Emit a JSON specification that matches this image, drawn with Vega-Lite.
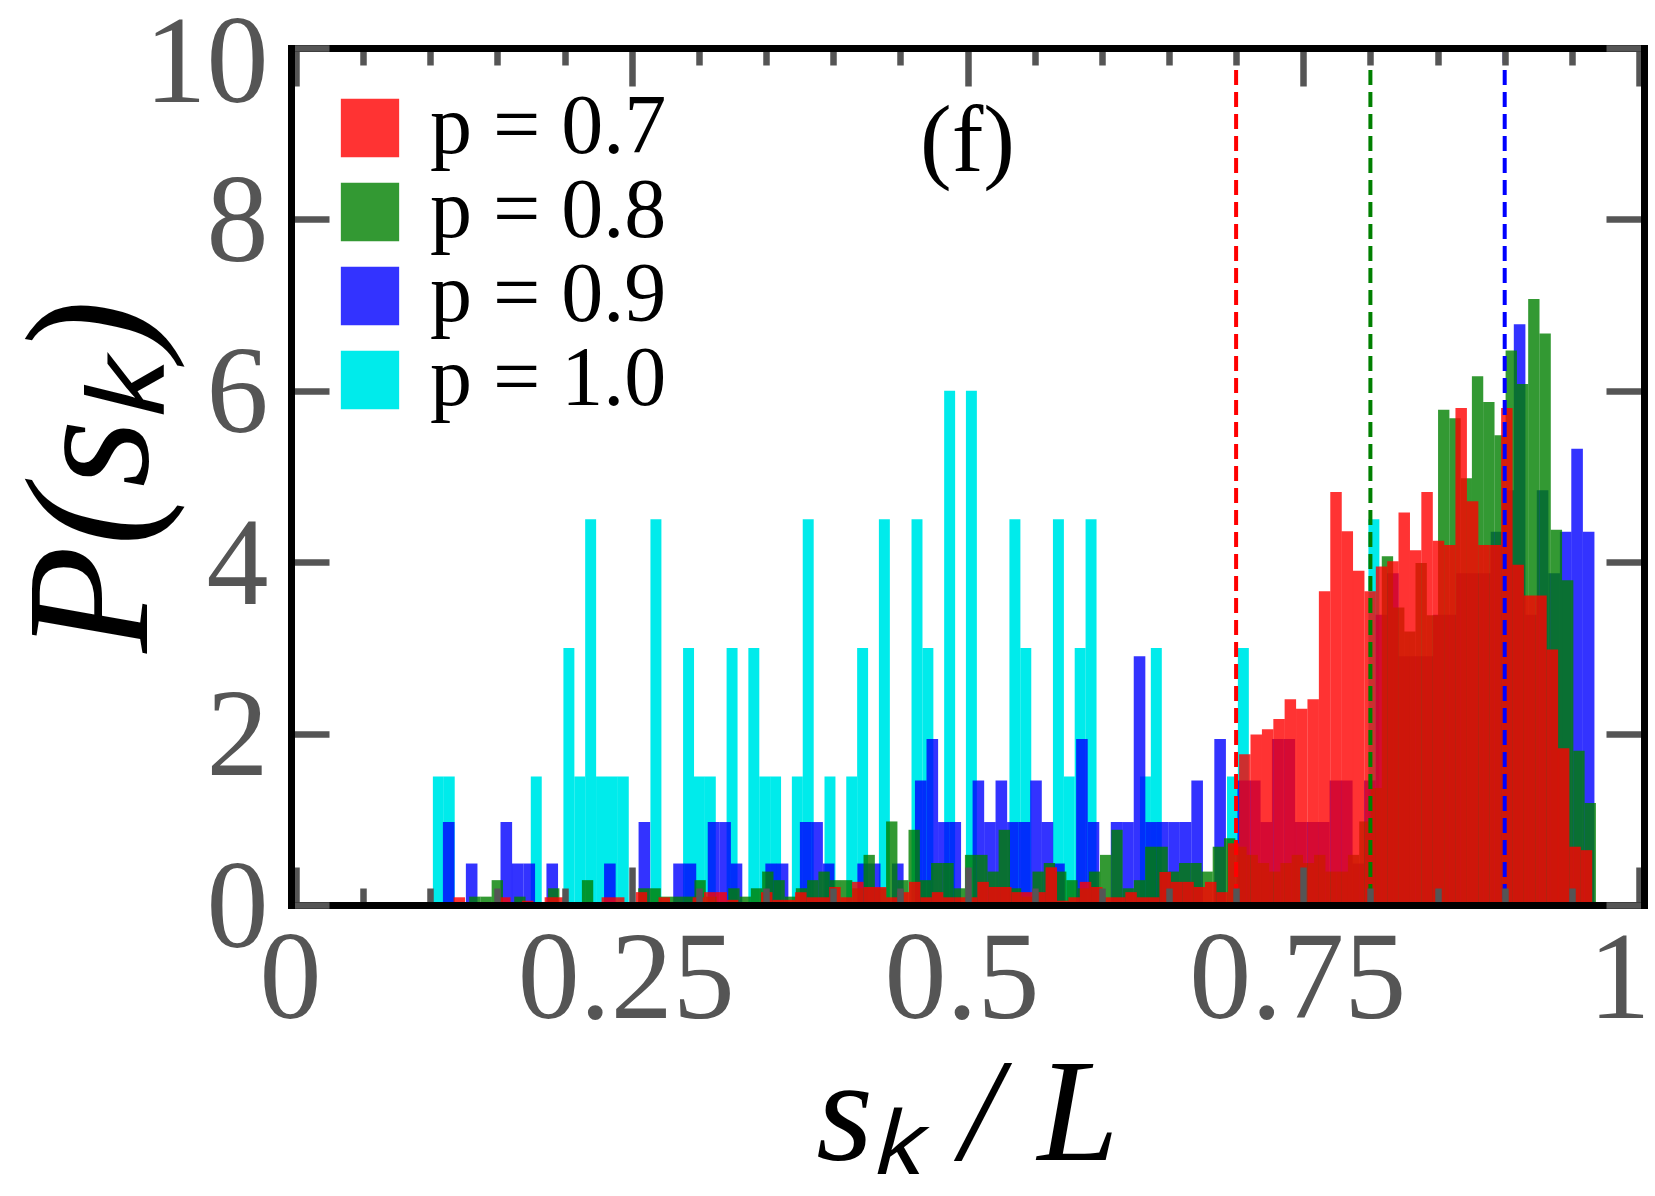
{
  "$schema": "https://vega.github.io/schema/vega-lite/v6.json",
  "width": 1353,
  "height": 857,
  "autosize": {"type": "none"},
  "padding": {"left": 291, "top": 48, "right": 11, "bottom": 291},
  "background": "white",
  "config": {
    "font": "Liberation Serif",
    "view": {"stroke": null},
    "axis": {"grid": false, "labelFont": "Liberation Serif", "titleFont": "Liberation Serif"},
    "legend": {"labelFont": "Liberation Serif"}
  },
  "datasets": {
    "cyan": [
      {"x": 0.1060, "y": 1.5}, {"x": 0.1141, "y": 1.5}, {"x": 0.1789, "y": 1.5}, {"x": 0.2032, "y": 3},
      {"x": 0.2113, "y": 1.5}, {"x": 0.2194, "y": 4.5}, {"x": 0.2275, "y": 1.5}, {"x": 0.2356, "y": 1.5},
      {"x": 0.2437, "y": 1.5}, {"x": 0.2680, "y": 4.5}, {"x": 0.2923, "y": 3}, {"x": 0.3004, "y": 1.5},
      {"x": 0.3085, "y": 1.5}, {"x": 0.3247, "y": 3}, {"x": 0.3409, "y": 3}, {"x": 0.3490, "y": 1.5},
      {"x": 0.3571, "y": 1.5}, {"x": 0.3733, "y": 1.5}, {"x": 0.3814, "y": 4.5}, {"x": 0.3976, "y": 1.5},
      {"x": 0.4138, "y": 1.5}, {"x": 0.4219, "y": 3}, {"x": 0.4381, "y": 4.5}, {"x": 0.4624, "y": 4.5},
      {"x": 0.4705, "y": 3}, {"x": 0.4867, "y": 6}, {"x": 0.5029, "y": 6}, {"x": 0.5353, "y": 4.5},
      {"x": 0.5434, "y": 3}, {"x": 0.5677, "y": 4.5}, {"x": 0.5758, "y": 1.5}, {"x": 0.5839, "y": 3},
      {"x": 0.5920, "y": 4.5}, {"x": 0.6325, "y": 1.5}, {"x": 0.6406, "y": 3}, {"x": 0.6973, "y": 1.5},
      {"x": 0.7054, "y": 3}, {"x": 0.8026, "y": 4.5}
    ],
    "blue": [
      {"x": 0.1137, "y": 0.968}, {"x": 0.1308, "y": 0.484}, {"x": 0.1566, "y": 0.968}, {"x": 0.1651, "y": 0.484},
      {"x": 0.1737, "y": 0.484}, {"x": 0.1908, "y": 0.484}, {"x": 0.2337, "y": 0.484}, {"x": 0.2594, "y": 0.968},
      {"x": 0.2852, "y": 0.484}, {"x": 0.2937, "y": 0.484}, {"x": 0.3109, "y": 0.968}, {"x": 0.3195, "y": 0.968},
      {"x": 0.3280, "y": 0.484}, {"x": 0.3538, "y": 0.484}, {"x": 0.3623, "y": 0.484}, {"x": 0.3795, "y": 0.968},
      {"x": 0.3880, "y": 0.968}, {"x": 0.3966, "y": 0.484}, {"x": 0.4223, "y": 0.484}, {"x": 0.4309, "y": 0.484},
      {"x": 0.4481, "y": 0.484}, {"x": 0.4652, "y": 1.452}, {"x": 0.4738, "y": 1.936}, {"x": 0.4824, "y": 0.968},
      {"x": 0.4909, "y": 0.968}, {"x": 0.5081, "y": 1.452}, {"x": 0.5167, "y": 0.968}, {"x": 0.5252, "y": 1.452},
      {"x": 0.5338, "y": 0.968}, {"x": 0.5424, "y": 0.968}, {"x": 0.5510, "y": 1.452}, {"x": 0.5595, "y": 0.968},
      {"x": 0.5681, "y": 0.484}, {"x": 0.5852, "y": 1.936}, {"x": 0.5938, "y": 0.968}, {"x": 0.6110, "y": 0.968},
      {"x": 0.6195, "y": 0.968}, {"x": 0.6281, "y": 2.904}, {"x": 0.6367, "y": 0.968}, {"x": 0.6452, "y": 0.968},
      {"x": 0.6538, "y": 0.968}, {"x": 0.6624, "y": 0.968}, {"x": 0.6710, "y": 1.452}, {"x": 0.6881, "y": 1.936},
      {"x": 0.7053, "y": 1.452}, {"x": 0.7139, "y": 1.452}, {"x": 0.7224, "y": 0.968}, {"x": 0.7310, "y": 1.936},
      {"x": 0.7396, "y": 1.936}, {"x": 0.7481, "y": 0.968}, {"x": 0.7567, "y": 0.968}, {"x": 0.7653, "y": 0.968},
      {"x": 0.7739, "y": 1.452}, {"x": 0.7824, "y": 1.452}, {"x": 0.7910, "y": 0.484}, {"x": 0.7996, "y": 1.452},
      {"x": 0.8082, "y": 3.388}, {"x": 0.8167, "y": 3.872}, {"x": 0.8253, "y": 2.904}, {"x": 0.8339, "y": 2.904},
      {"x": 0.8425, "y": 2.904}, {"x": 0.8510, "y": 3.388}, {"x": 0.8596, "y": 3.388}, {"x": 0.8682, "y": 3.872},
      {"x": 0.8768, "y": 3.872}, {"x": 0.8853, "y": 3.872}, {"x": 0.8939, "y": 4.356}, {"x": 0.9025, "y": 4.84},
      {"x": 0.9111, "y": 6.776}, {"x": 0.9196, "y": 3.388}, {"x": 0.9282, "y": 4.84}, {"x": 0.9368, "y": 3.872},
      {"x": 0.9454, "y": 4.356}, {"x": 0.9539, "y": 5.324}, {"x": 0.9625, "y": 4.356}
    ],
    "green": [
      {"x": 0.1332, "y": 0.0975}, {"x": 0.1416, "y": 0.0975}, {"x": 0.1499, "y": 0.29}, {"x": 0.1667, "y": 0.0975},
      {"x": 0.1919, "y": 0.195}, {"x": 0.2171, "y": 0.29}, {"x": 0.2590, "y": 0.195}, {"x": 0.2674, "y": 0.195},
      {"x": 0.2758, "y": 0.0975}, {"x": 0.2842, "y": 0.0975}, {"x": 0.2926, "y": 0.0975}, {"x": 0.3009, "y": 0.29},
      {"x": 0.3093, "y": 0.0975}, {"x": 0.3261, "y": 0.195}, {"x": 0.3345, "y": 0.0975}, {"x": 0.3429, "y": 0.195},
      {"x": 0.3513, "y": 0.39}, {"x": 0.3597, "y": 0.29}, {"x": 0.3681, "y": 0.0975}, {"x": 0.3764, "y": 0.195},
      {"x": 0.3848, "y": 0.29}, {"x": 0.3932, "y": 0.39}, {"x": 0.4016, "y": 0.29}, {"x": 0.4100, "y": 0.29},
      {"x": 0.4184, "y": 0.195}, {"x": 0.4268, "y": 0.585}, {"x": 0.4352, "y": 0.195}, {"x": 0.4436, "y": 0.975},
      {"x": 0.4519, "y": 0.29}, {"x": 0.4603, "y": 0.8775}, {"x": 0.4687, "y": 0.29}, {"x": 0.4771, "y": 0.49},
      {"x": 0.4855, "y": 0.49}, {"x": 0.4939, "y": 0.195}, {"x": 0.5023, "y": 0.585}, {"x": 0.5107, "y": 0.585},
      {"x": 0.5191, "y": 0.39}, {"x": 0.5274, "y": 0.8775}, {"x": 0.5358, "y": 0.195}, {"x": 0.5442, "y": 0.0975},
      {"x": 0.5526, "y": 0.39}, {"x": 0.5610, "y": 0.49}, {"x": 0.5694, "y": 0.39}, {"x": 0.5778, "y": 0.29},
      {"x": 0.5862, "y": 0.195}, {"x": 0.5946, "y": 0.39}, {"x": 0.6029, "y": 0.585}, {"x": 0.6113, "y": 0.8775},
      {"x": 0.6197, "y": 0.195}, {"x": 0.6281, "y": 0.29}, {"x": 0.6365, "y": 0.68}, {"x": 0.6449, "y": 0.68},
      {"x": 0.6533, "y": 0.39}, {"x": 0.6617, "y": 0.49}, {"x": 0.6701, "y": 0.49}, {"x": 0.6784, "y": 0.39},
      {"x": 0.6868, "y": 0.68}, {"x": 0.6952, "y": 0.78}, {"x": 0.7036, "y": 0.68}, {"x": 0.7120, "y": 0.585},
      {"x": 0.7204, "y": 0.49}, {"x": 0.7288, "y": 0.39}, {"x": 0.7372, "y": 0.49}, {"x": 0.7456, "y": 0.585},
      {"x": 0.7539, "y": 0.49}, {"x": 0.7623, "y": 0.585}, {"x": 0.7707, "y": 0.39}, {"x": 0.7791, "y": 0.39},
      {"x": 0.7875, "y": 0.585}, {"x": 0.7959, "y": 0.975}, {"x": 0.8043, "y": 1.365}, {"x": 0.8127, "y": 4.07},
      {"x": 0.8211, "y": 3.47}, {"x": 0.8294, "y": 3.19}, {"x": 0.8378, "y": 3.99}, {"x": 0.8462, "y": 3.38},
      {"x": 0.8546, "y": 5.78}, {"x": 0.8630, "y": 5.68}, {"x": 0.8714, "y": 4.98}, {"x": 0.8798, "y": 6.17},
      {"x": 0.8882, "y": 5.87}, {"x": 0.8966, "y": 5.48}, {"x": 0.9049, "y": 6.47}, {"x": 0.9133, "y": 6.08},
      {"x": 0.9217, "y": 7.07}, {"x": 0.9301, "y": 6.67}, {"x": 0.9385, "y": 4.38}, {"x": 0.9469, "y": 3.79},
      {"x": 0.9553, "y": 1.8}, {"x": 0.9637, "y": 1.19}
    ],
    "red": [
      {"x": 0.1216, "y": 0.09}, {"x": 0.1555, "y": 0.09}, {"x": 0.1725, "y": 0.05}, {"x": 0.1894, "y": 0.09},
      {"x": 0.1979, "y": 0.09}, {"x": 0.2318, "y": 0.09}, {"x": 0.2403, "y": 0.09}, {"x": 0.2572, "y": 0.15},
      {"x": 0.2742, "y": 0.09}, {"x": 0.2996, "y": 0.09}, {"x": 0.3081, "y": 0.15}, {"x": 0.3166, "y": 0.15},
      {"x": 0.3251, "y": 0.06}, {"x": 0.3505, "y": 0.15}, {"x": 0.3590, "y": 0.06}, {"x": 0.3675, "y": 0.06},
      {"x": 0.3759, "y": 0.15}, {"x": 0.3844, "y": 0.09}, {"x": 0.3929, "y": 0.09}, {"x": 0.4013, "y": 0.21},
      {"x": 0.4098, "y": 0.09}, {"x": 0.4183, "y": 0.27}, {"x": 0.4268, "y": 0.21}, {"x": 0.4353, "y": 0.21},
      {"x": 0.4437, "y": 0.09}, {"x": 0.4522, "y": 0.15}, {"x": 0.4607, "y": 0.27}, {"x": 0.4692, "y": 0.09},
      {"x": 0.4777, "y": 0.15}, {"x": 0.4861, "y": 0.09}, {"x": 0.4946, "y": 0.09}, {"x": 0.5031, "y": 0.09},
      {"x": 0.5116, "y": 0.27}, {"x": 0.5200, "y": 0.21}, {"x": 0.5285, "y": 0.21}, {"x": 0.5370, "y": 0.15},
      {"x": 0.5455, "y": 0.15}, {"x": 0.5540, "y": 0.15}, {"x": 0.5624, "y": 0.44}, {"x": 0.5709, "y": 0.05},
      {"x": 0.5794, "y": 0.09}, {"x": 0.5879, "y": 0.27}, {"x": 0.5963, "y": 0.21}, {"x": 0.6048, "y": 0.09},
      {"x": 0.6133, "y": 0.09}, {"x": 0.6218, "y": 0.15}, {"x": 0.6302, "y": 0.09}, {"x": 0.6387, "y": 0.09},
      {"x": 0.6472, "y": 0.385}, {"x": 0.6557, "y": 0.27}, {"x": 0.6642, "y": 0.27}, {"x": 0.6726, "y": 0.21},
      {"x": 0.6811, "y": 0.27}, {"x": 0.6896, "y": 0.15}, {"x": 0.6981, "y": 0.72}, {"x": 0.7065, "y": 1.76},
      {"x": 0.7150, "y": 1.99}, {"x": 0.7235, "y": 2.05}, {"x": 0.7320, "y": 2.17}, {"x": 0.7404, "y": 2.4},
      {"x": 0.7489, "y": 2.29}, {"x": 0.7574, "y": 2.4}, {"x": 0.7659, "y": 3.66}, {"x": 0.7744, "y": 4.82},
      {"x": 0.7828, "y": 4.36}, {"x": 0.7913, "y": 3.9}, {"x": 0.7998, "y": 3.66}, {"x": 0.8083, "y": 3.95},
      {"x": 0.8168, "y": 4.01}, {"x": 0.8252, "y": 4.58}, {"x": 0.8337, "y": 4.14}, {"x": 0.8422, "y": 4.82},
      {"x": 0.8507, "y": 4.25}, {"x": 0.8592, "y": 4.2}, {"x": 0.8676, "y": 5.8}, {"x": 0.8761, "y": 4.71},
      {"x": 0.8846, "y": 4.2}, {"x": 0.8931, "y": 4.2}, {"x": 0.9016, "y": 5.8}, {"x": 0.9100, "y": 3.97},
      {"x": 0.9185, "y": 3.61}, {"x": 0.9270, "y": 3.61}, {"x": 0.9355, "y": 2.98}, {"x": 0.9439, "y": 1.83},
      {"x": 0.9524, "y": 0.68}, {"x": 0.9609, "y": 0.64}
    ],
    "means": [
      {"pos": 0.7, "p": "p = 0.7"},
      {"pos": 0.8, "p": "p = 0.8"},
      {"pos": 0.9, "p": "p = 0.9"}
    ],
    "panel": [
      {"label": "(f)"}
    ]
  },
  "layer": [
    {
      "data": {"name": "cyan"},
      "mark": {"type": "bar", "width": 10.96},
      "encoding": {
        "x": {
          "field": "x", "type": "quantitative",
          "scale": {"domain": [0, 1], "nice": false, "zero": false},
          "axis": {
            "orient": "bottom",
            "values": [0, 0.05, 0.1, 0.15, 0.2, 0.25, 0.3, 0.35, 0.4, 0.45, 0.5, 0.55, 0.6, 0.65, 0.7, 0.75, 0.8, 0.85, 0.9, 0.95, 1],
            "labelExpr": "indexof([0, 0.25, 0.5, 0.75, 1], datum.value) >= 0 ? '' + datum.value : ''",
            "tickSize": {"condition": {"test": "indexof([0, 0.25, 0.5, 0.75, 1], datum.value) >= 0", "value": -38}, "value": -17},
            "tickWidth": 6.5, "tickColor": "#555555",
            "domainColor": "black", "domainWidth": 7, "domainCap": "square",
            "labelFont": "Liberation Serif", "labelFontSize": 124, "labelColor": "#555555",
            "labelBaseline": "alphabetic", "labelPadding": 150,
            "labelOffset": {"condition": {"test": "datum.value === 1", "value": -20}, "value": -6},
            "labelFlush": false, "labelOverlap": false, "labelLimit": 500,
            "title": "sₖ / L", "titleFont": "Liberation Serif", "titleFontSize": 146, "titleFontStyle": "italic",
            "titleFontWeight": "normal", "titleColor": "black", "titleX": 676, "titleY": 254,
            "titleBaseline": "alphabetic", "titleAlign": "center", "titleLimit": 0,
            "zindex": 1
          }
        },
        "y": {
          "field": "y", "type": "quantitative",
          "scale": {"domain": [0, 10], "nice": false},
          "axis": {
            "orient": "left",
            "values": [0, 2, 4, 6, 8, 10],
            "tickSize": -38, "tickWidth": 6.5, "tickColor": "#555555",
            "domainColor": "black", "domainWidth": 7, "domainCap": "square",
            "labelFont": "Liberation Serif", "labelFontSize": 124, "labelColor": "#555555",
            "labelBaseline": "middle", "labelAlign": "right", "labelPadding": 61,
            "labelOffset": {"condition": {"test": "datum.value === 10", "value": 16}, "value": 4},
            "labelFlush": false, "labelOverlap": false, "labelLimit": 500,
            "title": "P(sₖ)", "titleFont": "Liberation Serif", "titleFontSize": 175, "titleFontStyle": "italic",
            "titleFontWeight": "normal", "titleColor": "black", "titleAngle": 270,
            "titleX": -198, "titleY": 428, "titleBaseline": "middle", "titleAlign": "center", "titleLimit": 0,
            "zindex": 1
          }
        },
        "color": {
          "datum": "p = 1.0", "type": "nominal",
          "scale": {
            "domain": ["p = 0.7", "p = 0.8", "p = 0.9", "p = 1.0"],
            "range": ["#ff0000", "#008000", "#0000ff", "#00ebeb"]
          },
          "legend": {
            "orient": "none", "legendX": 37, "legendY": 38, "title": null,
            "symbolType": "square", "symbolSize": 3400, "symbolStrokeWidth": 0,
            "labelFont": "Liberation Serif", "labelFontSize": 84, "labelColor": "black",
            "labelOffset": 18, "rowPadding": 0, "padding": 0, "labelLimit": 0,
            "encode": {"symbols": {"update": {"fillOpacity": {"signal": "datum.value === 'p = 1.0' ? 1 : 0.8"}}}}
          }
        }
      }
    },
    {
      "data": {"name": "blue"},
      "mark": {"type": "bar", "width": 11.6, "opacity": 0.8},
      "encoding": {
        "x": {"field": "x", "type": "quantitative", "axis": null},
        "y": {"field": "y", "type": "quantitative", "axis": null},
        "color": {"datum": "p = 0.9", "type": "nominal"}
      }
    },
    {
      "data": {"name": "green"},
      "mark": {"type": "bar", "width": 11.35, "opacity": 0.8},
      "encoding": {
        "x": {"field": "x", "type": "quantitative", "axis": null},
        "y": {"field": "y", "type": "quantitative", "axis": null},
        "color": {"datum": "p = 0.8", "type": "nominal"}
      }
    },
    {
      "data": {"name": "red"},
      "mark": {"type": "bar", "width": 11.47, "opacity": 0.8},
      "encoding": {
        "x": {"field": "x", "type": "quantitative", "axis": null},
        "y": {"field": "y", "type": "quantitative", "axis": null},
        "color": {"datum": "p = 0.7", "type": "nominal"}
      }
    },
    {
      "data": {"name": "means"},
      "mark": {"type": "rule", "strokeWidth": 4, "strokeDash": [15, 7]},
      "encoding": {
        "x": {
          "field": "pos", "type": "quantitative",
          "axis": {
            "orient": "top",
            "values": [0, 0.05, 0.1, 0.15, 0.2, 0.25, 0.3, 0.35, 0.4, 0.45, 0.5, 0.55, 0.6, 0.65, 0.7, 0.75, 0.8, 0.85, 0.9, 0.95, 1],
            "labels": false, "title": null,
            "tickSize": {"condition": {"test": "indexof([0, 0.25, 0.5, 0.75, 1], datum.value) >= 0", "value": -38}, "value": -17},
            "tickWidth": 6.5, "tickColor": "#555555",
            "domainColor": "black", "domainWidth": 7, "domainCap": "square",
            "zindex": 1
          }
        },
        "color": {"field": "p", "type": "nominal", "legend": null}
      }
    },
    {
      "data": {"name": "panel"},
      "mark": {"type": "text", "font": "Liberation Serif", "fontSize": 95, "color": "black", "baseline": "middle", "align": "center"},
      "encoding": {
        "x": {"datum": 0.5, "type": "quantitative", "axis": null},
        "y": {
          "datum": 8.9, "type": "quantitative",
          "axis": {
            "orient": "right",
            "values": [0, 2, 4, 6, 8, 10],
            "labels": false, "title": null,
            "tickSize": -38, "tickWidth": 6.5, "tickColor": "#555555",
            "domainColor": "black", "domainWidth": 7, "domainCap": "square",
            "zindex": 1
          }
        },
        "text": {"field": "label", "type": "nominal"}
      }
    }
  ],
  "resolve": {"axis": {"x": "independent", "y": "independent"}}
}
